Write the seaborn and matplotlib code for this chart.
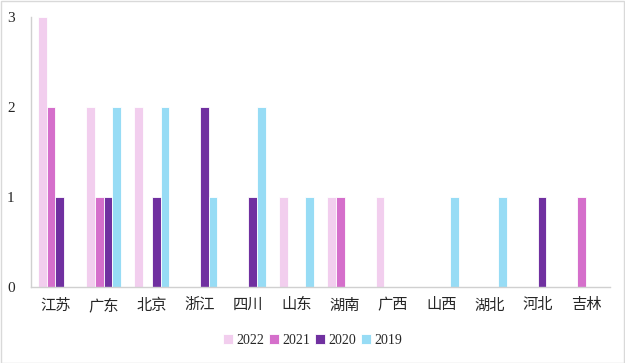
import matplotlib
matplotlib.use("Agg")
import matplotlib.pyplot as plt
from matplotlib.patches import Rectangle
import seaborn as sns
import pandas as pd

provinces = ["江苏", "广东", "北京", "浙江", "四川", "山东", "湖南", "广西", "山西", "湖北", "河北", "吉林"]
years = ["2022", "2021", "2020", "2019"]
v2022 = [3, 2, 2, 0, 0, 1, 1, 1, 0, 0, 0, 0]
v2021 = [2, 1, 0, 0, 0, 0, 1, 0, 0, 0, 0, 1]
v2020 = [1, 1, 1, 2, 1, 0, 0, 0, 0, 0, 1, 0]
v2019 = [0, 2, 2, 1, 2, 1, 0, 0, 1, 1, 0, 0]
colors = ["#F2CEEE", "#D56FCB", "#7030A0", "#97DCF5"]

rows = []
for yr, vals in zip(years, [v2022, v2021, v2020, v2019]):
    for p, v in zip(provinces, vals):
        rows.append({"province": p, "year": yr, "count": v})
df = pd.DataFrame(rows)

sns.set_theme(style="white")
plt.rcParams["font.family"] = ["Liberation Serif", "Noto Sans CJK SC"]

fig = plt.figure(figsize=(6.25, 3.63), dpi=100)
ax = fig.add_axes([0.05, 0.209, 0.926, 0.744])

sns.barplot(data=df, x="province", y="count", hue="year", hue_order=years,
            palette=colors, saturation=1, width=0.72, ax=ax,
            edgecolor="white", linewidth=0.6, legend=True)

ax.set_ylim(0, 3)
ax.set_xlim(-0.5, len(provinces) - 0.5)
ax.set_yticks([0, 1, 2, 3])
ax.set_xlabel("")
ax.set_ylabel("")
for s in ["top", "right"]:
    ax.spines[s].set_visible(False)
for s in ["left", "bottom"]:
    ax.spines[s].set_color("#D0D0D0")
    ax.spines[s].set_linewidth(1)
ax.tick_params(axis="both", length=0, labelsize=11, colors="#262626")
ax.tick_params(axis="x", pad=8)
ax.tick_params(axis="y", pad=12)

handles, labels = ax.get_legend_handles_labels()
ax.get_legend().remove()
fig.legend(handles, labels, loc="center", bbox_to_anchor=(0.5, 0.063), ncol=4,
           frameon=False, handlelength=0.7, handleheight=0.7, handletextpad=0.25,
           columnspacing=0.35, fontsize=10)

fig.patches.append(Rectangle((0.001, 0.001), 0.997, 0.996, transform=fig.transFigure,
                             fill=False, edgecolor="#D9D9D9", linewidth=1))

fig.savefig("out.png", dpi=100)
